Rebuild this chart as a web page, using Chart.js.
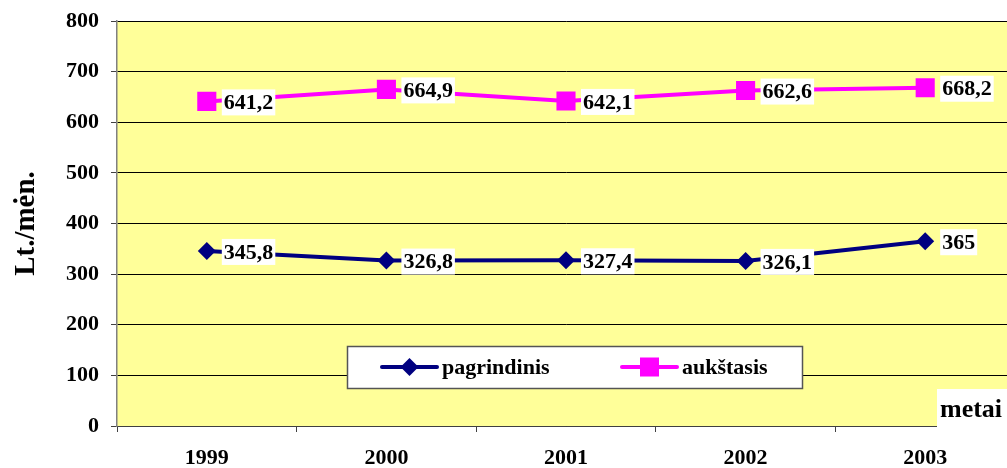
<!DOCTYPE html>
<html>
<head>
<meta charset="utf-8">
<script src="https://cdn.jsdelivr.net/npm/chart.js@4.4.1/dist/chart.umd.min.js"></script>
<style>
  html, body { margin: 0; padding: 0; background: #fff; overflow: hidden; }
  #wrap { width: 1016px; height: 468px; }
</style>
</head>
<body>
<div id="wrap"><canvas id="c" width="1016" height="468"></canvas></div>
<script>
// Average monthly pay by education level, Lt per month
const years = ['1999', '2000', '2001', '2002', '2003'];
const pagrindinis = [345.8, 326.8, 327.4, 326.1, 365];
const aukstasis = [641.2, 664.9, 642.1, 662.6, 668.2];
const seriesNames = ['pagrindinis', 'aukštasis'];
const yTicks = [0, 100, 200, 300, 400, 500, 600, 700, 800];
const yTitle = 'Lt./mėn.';
const xTitle = 'metai';

const SERIF = '"Times New Roman", "Liberation Serif", serif';
const fmt = v => String(v).replace('.', ',');

// yellow plot background
const plotBg = {
  id: 'plotBg',
  beforeDraw(chart) {
    const { ctx, chartArea: a } = chart;
    ctx.save();
    ctx.fillStyle = '#FFFF99';
    ctx.fillRect(a.left, a.top, a.right - a.left, a.bottom - a.top);
    ctx.restore();
  }
};

// value labels on white boxes to the right of each marker
const valueLabels = {
  id: 'valueLabels',
  afterDatasetsDraw(chart) {
    const ctx = chart.ctx;
    ctx.save();
    ctx.font = 'bold 22px ' + SERIF;
    ctx.textBaseline = 'middle';
    ctx.textAlign = 'left';
    chart.data.datasets.forEach((ds, i) => {
      chart.getDatasetMeta(i).data.forEach((pt, j) => {
        const txt = fmt(ds.data[j]);
        const w = ctx.measureText(txt).width;
        const x = pt.x + 15, y = pt.y + 1;
        ctx.fillStyle = '#fff';
        ctx.fillRect(x, y - 13, w + 4, 26);
        ctx.fillStyle = '#000';
        ctx.fillText(txt, x + 2, y + 1);
      });
    });
    ctx.restore();
  }
};

// boxed legend inside the plot and the "metai" axis caption
const overlay = {
  id: 'overlay',
  afterDraw(chart) {
    const ctx = chart.ctx;
    ctx.save();
    // legend box
    ctx.fillStyle = '#fff';
    ctx.fillRect(347, 346, 455, 42);
    ctx.strokeStyle = '#555';
    ctx.lineWidth = 1.5;
    ctx.strokeRect(347.5, 346.5, 455, 42);
    const items = [
      { x0: 382, ds: chart.data.datasets[0] },
      { x0: 622, ds: chart.data.datasets[1] }
    ];
    const ly = 367;
    items.forEach(it => {
      const c = it.ds.borderColor;
      ctx.strokeStyle = c;
      ctx.lineWidth = 4;
      ctx.lineCap = 'round';
      ctx.beginPath();
      ctx.moveTo(it.x0, ly);
      ctx.lineTo(it.x0 + 55, ly);
      ctx.stroke();
      ctx.fillStyle = c;
      const cx = it.x0 + 27.5;
      if (it.ds.pointStyle === 'rectRot') {
        ctx.beginPath();
        ctx.moveTo(cx, ly - 9);
        ctx.lineTo(cx + 9, ly);
        ctx.lineTo(cx, ly + 9);
        ctx.lineTo(cx - 9, ly);
        ctx.closePath();
        ctx.fill();
      } else {
        ctx.fillRect(cx - 9.5, ly - 9.5, 19, 19);
      }
      ctx.fillStyle = '#000';
      ctx.font = 'bold 22px ' + SERIF;
      ctx.textBaseline = 'middle';
      ctx.textAlign = 'left';
      ctx.fillText(it.ds.label, it.x0 + 60, ly + 1);
    });
    // axis caption
    ctx.fillStyle = '#fff';
    ctx.fillRect(937, 389, 79, 39);
    ctx.fillStyle = '#000';
    ctx.font = 'bold 26px ' + SERIF;
    ctx.textBaseline = 'alphabetic';
    ctx.textAlign = 'left';
    ctx.fillText(xTitle, 940, 417);
    ctx.restore();
  }
};

new Chart(document.getElementById('c'), {
  type: 'line',
  data: {
    labels: years,
    datasets: [
      {
        label: seriesNames[0],
        data: pagrindinis,
        borderColor: '#000080',
        backgroundColor: '#000080',
        borderWidth: 4,
        pointStyle: 'rectRot',
        pointRadius: 9,
        pointHoverRadius: 9,
        pointBorderWidth: 0,
        tension: 0
      },
      {
        label: seriesNames[1],
        data: aukstasis,
        borderColor: '#FF00FF',
        backgroundColor: '#FF00FF',
        borderWidth: 4,
        pointStyle: 'rect',
        pointRadius: 13.5,
        pointHoverRadius: 13.5,
        pointBorderWidth: 0,
        tension: 0
      }
    ]
  },
  options: {
    responsive: false,
    animation: false,
    events: [],
    layout: { autoPadding: false, padding: { top: 21, right: 1, left: 0, bottom: 0 } },
    plugins: {
      legend: { display: false },
      tooltip: { enabled: false }
    },
    scales: {
      x: {
        type: 'category',
        offset: true,
        afterFit(s) { s.height = 42; s.paddingLeft = 0; s.paddingRight = 0; },
        grid: {
          offset: true,
          drawOnChartArea: false,
          drawTicks: true,
          tickLength: 6,
          tickColor: '#404040'
        },
        border: { color: '#404040', width: 1 },
        ticks: {
          color: '#000',
          padding: 13,
          maxRotation: 0,
          font: { family: SERIF, size: 22, weight: 'bold' }
        }
      },
      y: {
        min: 0,
        max: 800,
        afterFit(s) { s.width = 117; s.paddingTop = 0; s.paddingBottom = 0; },
        afterBuildTicks(s) { s.ticks = yTicks.map(v => ({ value: v })); },
        grid: {
          color: '#000',
          lineWidth: 1,
          tickLength: 6,
          tickColor: '#404040'
        },
        border: { color: '#808080', width: 1.5 },
        ticks: {
          color: '#000',
          padding: 12,
          font: { family: SERIF, size: 22, weight: 'bold' }
        },
        title: {
          display: true,
          text: yTitle,
          color: '#000',
          padding: { top: 9, bottom: 0 },
          font: { family: SERIF, size: 29, weight: 'bold' }
        }
      }
    }
  },
  plugins: [plotBg, valueLabels, overlay]
});
</script>
</body>
</html>
